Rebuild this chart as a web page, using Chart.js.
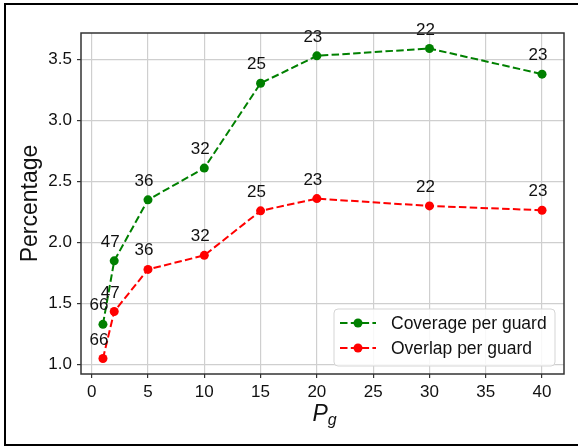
<!DOCTYPE html>
<html lang="en">
<head>
    <meta charset="UTF-8">
    <title>Coverage and overlap per guard</title>
    <script src="https://cdn.jsdelivr.net/npm/chart.js"></script>
    <style>
        body { margin: 0; background: #fff; overflow: hidden; }
    </style>
</head>
<body>
<canvas id="guardChart" width="578" height="446"></canvas>

<script>
    // values
    const pgValues = [1, 2, 5, 10, 15, 20, 30, 40];
    const coverage = [1.33, 1.85, 2.35, 2.61, 3.305, 3.53, 3.59, 3.38];
    const overlap = [1.05, 1.435, 1.78, 1.895, 2.26, 2.36, 2.30, 2.265];
    const guardCounts = [66, 47, 36, 32, 25, 23, 22, 23];
    const xTicks = [0, 5, 10, 15, 20, 25, 30, 35, 40];
    const yTicks = [1.0, 1.5, 2.0, 2.5, 3.0, 3.5];

    const FONT = 'Liberation Sans, Arial, sans-serif';
    const TEXT = '#111';

    function series(label, values, color) {
        return {
            label: label,
            data: pgValues.map((x, i) => ({ x: x, y: values[i] })),
            borderColor: color,
            backgroundColor: color,
            borderWidth: 2,
            borderDash: [7.5, 3.3],
            pointRadius: 4.5,
            pointHoverRadius: 4.5,
            pointBorderWidth: 0,
            tension: 0
        };
    }

    // black outer frame (no right side, as in the picture)
    const outerFrame = {
        id: 'outerFrame',
        beforeDraw(chart) {
            const ctx = chart.ctx;
            ctx.save();
            ctx.fillStyle = '#fff';
            ctx.fillRect(0, 0, chart.width, chart.height);
            ctx.strokeStyle = '#000';
            ctx.lineWidth = 2;
            ctx.beginPath();
            ctx.moveTo(chart.width, 4);
            ctx.lineTo(5, 4);
            ctx.lineTo(5, 445);
            ctx.lineTo(chart.width, 445);
            ctx.stroke();
            ctx.restore();
        }
    };

    // number of guards written above every point
    const countLabels = {
        id: 'countLabels',
        afterDatasetsDraw(chart) {
            const ctx = chart.ctx;
            ctx.save();
            ctx.font = '17px ' + FONT;
            ctx.fillStyle = TEXT;
            ctx.textAlign = 'center';
            ctx.textBaseline = 'alphabetic';
            chart.data.datasets.forEach((ds, d) => {
                chart.getDatasetMeta(d).data.forEach((pt, i) => {
                    ctx.fillText(String(guardCounts[i]), pt.x - 4, pt.y - 14);
                });
            });
            ctx.restore();
        }
    };

    // axes frame, x title with subscript, legend in the lower right
    const decorations = {
        id: 'decorations',
        afterDraw(chart) {
            const ctx = chart.ctx;
            const a = chart.chartArea;
            ctx.save();
            ctx.strokeStyle = '#333';
            ctx.lineWidth = 1.5;
            ctx.strokeRect(a.left, a.top, a.right - a.left, a.bottom - a.top);

            // P_g
            ctx.fillStyle = TEXT;
            ctx.textBaseline = 'alphabetic';
            ctx.textAlign = 'left';
            ctx.font = 'italic 23px ' + FONT;
            const pw = ctx.measureText('P').width;
            ctx.font = 'italic 16px ' + FONT;
            const gw = ctx.measureText('g').width;
            const cx = (a.left + a.right) / 2 + 2;
            const x0 = cx - (pw + gw) / 2;
            ctx.font = 'italic 23px ' + FONT;
            ctx.fillText('P', x0, 421);
            ctx.font = 'italic 16px ' + FONT;
            ctx.fillText('g', x0 + pw, 425);

            // legend
            const bx = 334, by = 309, bw = 221, bh = 57;
            ctx.beginPath();
            ctx.roundRect(bx, by, bw, bh, 4);
            ctx.fillStyle = 'rgba(255,255,255,0.85)';
            ctx.fill();
            ctx.strokeStyle = '#d5d5d5';
            ctx.lineWidth = 1;
            ctx.stroke();
            ctx.font = '17.5px ' + FONT;
            ctx.textBaseline = 'middle';
            chart.data.datasets.forEach((ds, i) => {
                const ry = 323 + i * 25;
                ctx.strokeStyle = ds.borderColor;
                ctx.lineWidth = 2;
                ctx.setLineDash(ds.borderDash);
                ctx.beginPath();
                ctx.moveTo(340, ry);
                ctx.lineTo(376, ry);
                ctx.stroke();
                ctx.setLineDash([]);
                ctx.fillStyle = ds.borderColor;
                ctx.beginPath();
                ctx.arc(358, ry, 4.5, 0, Math.PI * 2);
                ctx.fill();
                ctx.fillStyle = TEXT;
                ctx.fillText(ds.label, 391, ry + 1);
            });
            ctx.restore();
        }
    };

    const ctx = document.getElementById('guardChart').getContext('2d');
    new Chart(ctx, {
        type: 'line',
        data: {
            datasets: [
                series('Coverage per guard', coverage, '#008000'),
                series('Overlap per guard', overlap, '#ff0000')
            ]
        },
        options: {
            responsive: false,
            animation: false,
            devicePixelRatio: 1,
            layout: { padding: { left: 5, top: 33, right: 14, bottom: 0 } },
            plugins: {
                legend: { display: false },
                tooltip: { enabled: false }
            },
            scales: {
                x: {
                    type: 'linear',
                    min: -0.95,
                    max: 41.95,
                    afterBuildTicks: s => { s.ticks = xTicks.map(v => ({ value: v })); },
                    afterFit: s => { s.height = 72; },
                    border: { display: false },
                    grid: { color: '#cfcfcf', lineWidth: 1.2, tickLength: 4, tickColor: '#333' },
                    ticks: { font: { family: FONT, size: 17 }, color: TEXT, padding: 4, maxRotation: 0 }
                },
                y: {
                    min: 0.923,
                    max: 3.717,
                    afterBuildTicks: s => { s.ticks = yTicks.map(v => ({ value: v })); },
                    afterFit: s => { s.width = 76; },
                    border: { display: false },
                    grid: { color: '#cfcfcf', lineWidth: 1.2, tickLength: 4, tickColor: '#333' },
                    ticks: {
                        font: { family: FONT, size: 17 },
                        color: TEXT,
                        padding: 5,
                        callback: v => Number(v).toFixed(1)
                    },
                    title: {
                        display: true,
                        text: 'Percentage',
                        font: { family: FONT, size: 23 },
                        color: TEXT,
                        padding: { top: 12, bottom: 0 }
                    }
                }
            }
        },
        plugins: [outerFrame, countLabels, decorations]
    });
</script>
</body>
</html>
